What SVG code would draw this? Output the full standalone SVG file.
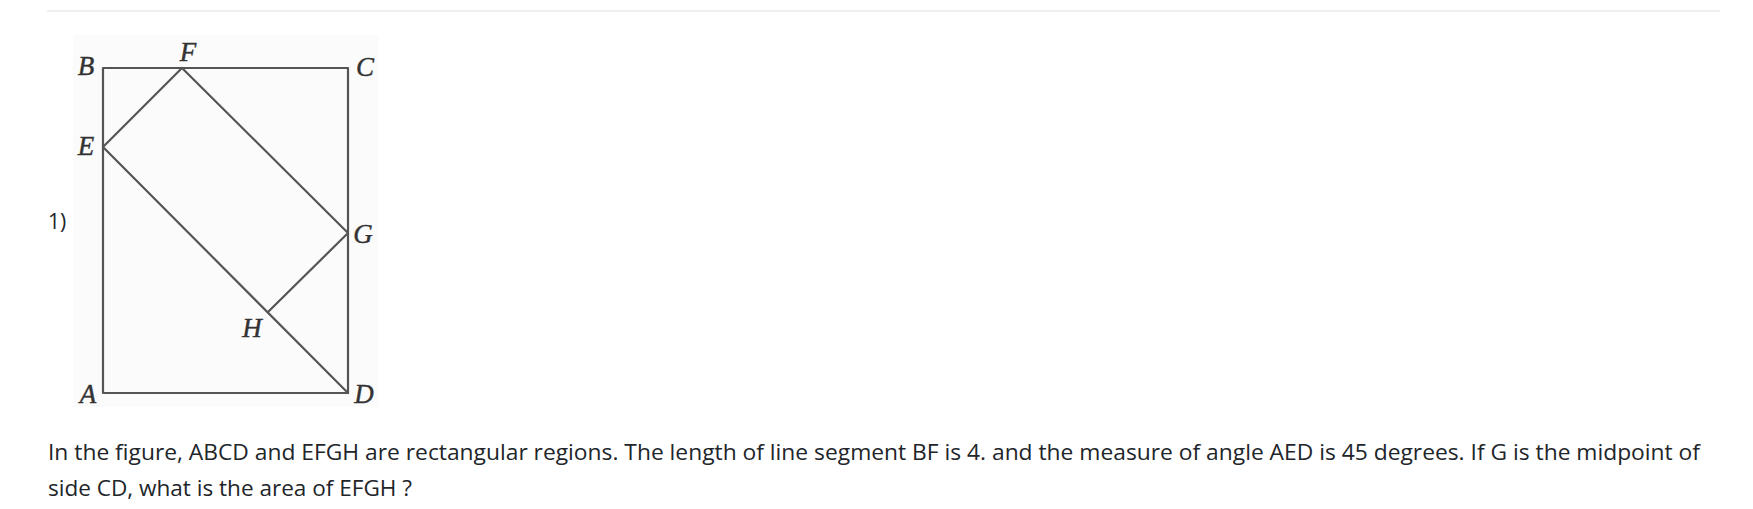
<svg xmlns="http://www.w3.org/2000/svg" width="1753" height="509" viewBox="0 0 1753 509">
<style>
.lbl{font-family:"Liberation Serif","Times New Roman",serif;font-style:italic;font-size:27px;fill:#333333;stroke:#333333;stroke-width:0.4;text-anchor:middle}
.edge{stroke:#555555;stroke-width:2.2;fill:none;stroke-linecap:round;stroke-linejoin:round}
.txt{font-family:"Open Sans","Noto Sans",sans-serif;font-size:21px;fill:#212529}
</style>
<rect width="1753" height="509" fill="#ffffff"/>
<line x1="47" y1="11" x2="1720" y2="11" stroke="#e2e2e2" stroke-width="1.2"/>
<text class="txt" x="48" y="229">1)</text>
<rect x="73" y="35" width="305" height="372" fill="#fbfbfb"/>
<g id="connectors">
<polygon class="edge" points="103,68 348,68 348,393 103,393"/>
<polyline class="edge" points="182,68 103,147 348,393"/>
<polyline class="edge" points="182,68 348,233 268,312"/>
</g>
<g id="node-B"><text class="lbl" x="86" y="75">B</text></g>
<g id="node-F"><text class="lbl" x="188" y="61">F</text></g>
<g id="node-C"><text class="lbl" x="365" y="76">C</text></g>
<g id="node-E"><text class="lbl" x="86" y="155">E</text></g>
<g id="node-G"><text class="lbl" x="363" y="243">G</text></g>
<g id="node-H"><text class="lbl" x="252" y="337">H</text></g>
<g id="node-A"><text class="lbl" x="88" y="403">A</text></g>
<g id="node-D"><text class="lbl" x="364" y="403">D</text></g>
<text class="txt" x="48" y="460" textLength="1652" lengthAdjust="spacingAndGlyphs">In the figure, ABCD and EFGH are rectangular regions. The length of line segment BF is 4. and the measure of angle AED is 45 degrees. If G is the midpoint of</text>
<text class="txt" x="48" y="496" textLength="364" lengthAdjust="spacingAndGlyphs">side CD, what is the area of EFGH ?</text>
</svg>
